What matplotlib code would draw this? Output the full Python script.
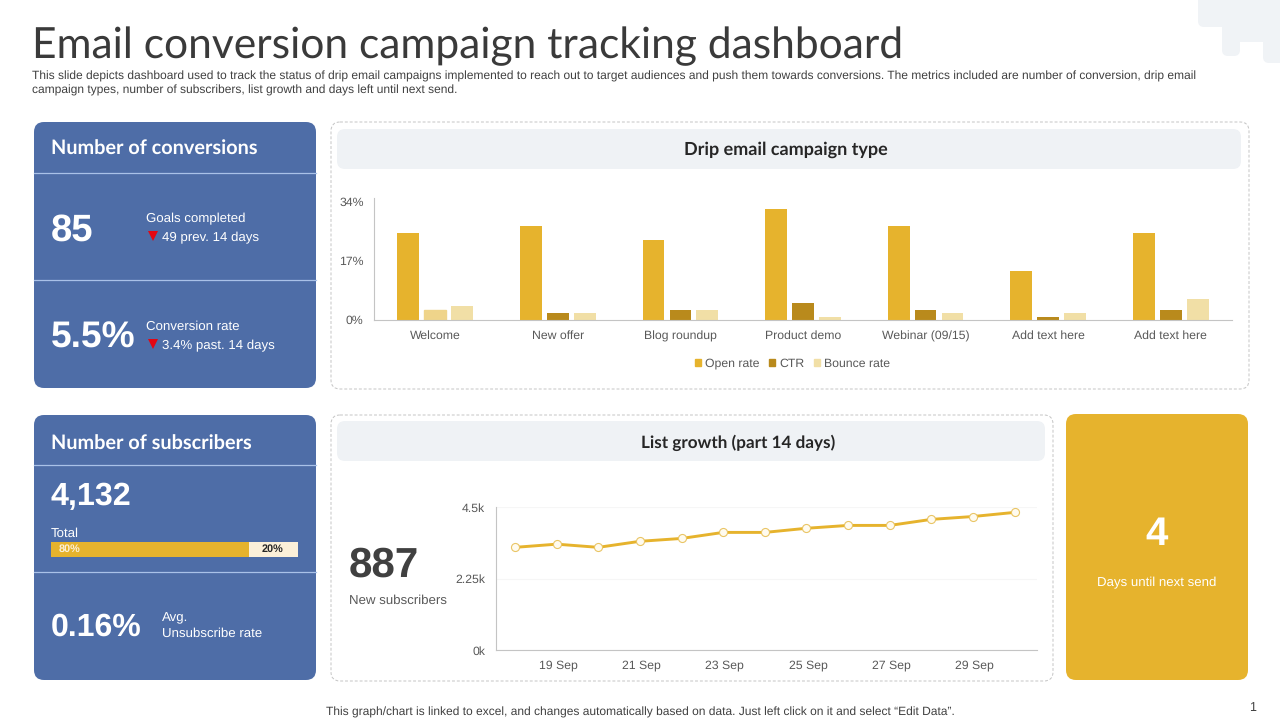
import matplotlib
matplotlib.use("Agg")
import matplotlib.pyplot as plt
from matplotlib.patches import FancyBboxPatch, Patch
from matplotlib.transforms import ScaledTranslation

plt.rcParams["text.hinting"] = "no_hinting"

W, H = 1280, 720
BLUE = "#4E6DA7"; GOLD = "#E6B32D"; DARK_GOLD = "#B98A1C"; PALE = "#F1DFA6"; MID = "#EFD48A"
GREY_BG = "#EFF2F5"; TXT = "#404040"; TICK = "#595959"; SANS = "Liberation Sans"

title = "Email conversion campaign tracking dashboard"
subtitle = ("This slide depicts dashboard used to track the status of drip email campaigns implemented to reach out to target audiences and push them towards conversions. The metrics included are number of conversion, drip email\n"
            "campaign types, number of subscribers, list growth and days left until next send.")
footer = "This graph/chart is linked to excel, and changes automatically based on data. Just left click on it and select \u201cEdit Data\u201d."

campaigns = ["Welcome", "New offer", "Blog roundup", "Product demo", "Webinar (09/15)", "Add text here", "Add text here"]
open_rate = [25, 27, 23, 32, 27, 14, 25]
ctr = [3, 2, 3, 5, 3, 1, 3]
bounce_rate = [4, 2, 3, 1, 2, 2, 6]
bar_ticks = [0, 17, 34]
bar_ticklabels = ["0%", "17%", "34%"]

days = ["18 Sep", "19 Sep", "20 Sep", "21 Sep", "22 Sep", "23 Sep", "24 Sep", "25 Sep", "26 Sep", "27 Sep", "28 Sep", "29 Sep", "30 Sep"]
subscribers = [3.24, 3.34, 3.24, 3.43, 3.52, 3.71, 3.71, 3.84, 3.93, 3.93, 4.12, 4.21, 4.34]
line_ticks = [0, 2.25, 4.5]
line_ticklabels = ["0k", "2.25k", "4.5k"]

share_values = [80, 20]
share_labels = ["80%", "20%"]

fig = plt.figure(figsize=(12.8, 7.2), dpi=100, facecolor="white")
bg = fig.add_axes([0, 0, 1, 1])
bg.set_xlim(0, W); bg.set_ylim(H, 0); bg.axis("off")


def axes_px(x0, y0, x1, y1):
    a = fig.add_axes([x0 / W, 1 - y1 / H, (x1 - x0) / W, (y1 - y0) / H])
    a.patch.set_alpha(0)
    return a


def box(x0, y0, x1, y1, fc, r=10, ec="none", lw=0, ls="-", z=1):
    p = FancyBboxPatch((x0, y0), x1 - x0, y1 - y0, boxstyle=f"round,pad=0,rounding_size={r}",
                       fc=fc, ec=ec, lw=lw, ls=ls, zorder=z)
    bg.add_patch(p)


def t(x, y, s, size, color="white", weight="normal", ha="left", va="center_baseline", family=SANS, **kw):
    bg.text(x, y, s, fontsize=size, color=color, fontweight=weight, ha=ha, va=va, family=family, zorder=5, **kw)


# top-right decorative blob
BLOB = "#F0F3F6"
for rect in [(1198, -20, 1300, 27), (1222, -20, 1240, 56), (1232, -20, 1268, 42), (1263, -20, 1300, 63)]:
    box(*rect, fc=BLOB, r=6, z=0)

t(32, 42.5, title, 30.65, color="#3A3A3A", family="Lato")
t(32, 83.5, subtitle, 8.64, color=TXT, linespacing=1.25, va="center")
t(640, 711, footer, 8.63, color=TXT, ha="center")
t(1253, 706, "1", 9, color=TXT, ha="center")

# left blue cards
box(34, 122, 316, 388, BLUE)
box(34, 415, 316, 680, BLUE)
for y in (173, 280, 465, 572):
    bg.plot([34, 316], [y, y], color="#A9C1E8", lw=0.9, zorder=3)

t(51, 147, "Number of conversions", 14.3, weight="bold", family="Lato")
t(51, 226.5, "85", 27.5, weight="bold")
t(146, 217.5, "Goals completed", 9.5)
t(162, 236.5, "49 prev. 14 days", 9.5)
t(51, 334.5, "5.5%", 26.7, weight="bold")
t(146, 325.5, "Conversion rate", 9.5)
t(162, 344.5, "3.4% past. 14 days", 9.5)
bg.plot([152.5, 152.5], [236, 344], ls="none", marker="v", ms=7.5, color="#E30613", mew=0, zorder=5)

t(51, 442, "Number of subscribers", 14.3, weight="bold", family="Lato")
t(51, 493.5, "4,132", 23.2, weight="bold")
t(51, 532.5, "Total", 9.5)
t(51, 624.5, "0.16%", 23, weight="bold")
t(162, 617, "Avg.", 9.5)
t(162, 632.5, "Unsubscribe rate", 9.5)

# share bar
ax_s = axes_px(51, 542, 298, 557)
ax_s.barh([0], [share_values[0]], color=GOLD, height=1)
ax_s.barh([0], [share_values[1]], left=[share_values[0]], color="#FBF0D9", height=1)
ax_s.set_xlim(0, sum(share_values)); ax_s.set_ylim(-0.5, 0.5); ax_s.axis("off")
ax_s.text(share_values[0] * 0.096, 0, share_labels[0], color="#FBF0D9", fontsize=7.8, fontweight="bold", family=SANS, ha="center", va="center")
ax_s.text(share_values[0] + share_values[1] * 0.49, 0, share_labels[1], color="#262626", fontsize=7.8, fontweight="bold", family=SANS, ha="center", va="center")

# dashed panels
dash = (0, (3, 2))
box(331, 122, 1249, 389, "white", r=9, ec="#C4C4C4", lw=0.7, ls=dash)
box(331, 415, 1053, 681, "white", r=9, ec="#C4C4C4", lw=0.7, ls=dash)
box(337, 129, 1241, 169, GREY_BG, r=8, z=2)
box(337, 421, 1045, 461, GREY_BG, r=8, z=2)
t(785.5, 148.5, "Drip email campaign type", 12.95, color="#262626", weight="bold", ha="center", family="Lato")
t(738, 441, "List growth (part 14 days)", 12.3, color="#262626", weight="bold", ha="center", family="Lato")

t(349, 561, "887", 30.3, color=TXT, weight="bold")
t(349, 599, "New subscribers", 9.5, color=TICK)

# yellow card
box(1066, 414, 1248, 680, GOLD)
t(1157, 530.5, "4", 29, weight="bold", ha="center")
t(1157, 582, "Days until next send", 9.5, ha="center")

# bar chart
ax = axes_px(374, 197.5, 1232, 320)
xs = list(range(len(campaigns)))
w, off = 0.178, 0.22
ax.bar([x - off for x in xs], open_rate, w, color=GOLD, label="Open rate")
ctr_bars = ax.bar(xs, ctr, w, color=DARK_GOLD, label="CTR")
ctr_bars[0].set_color(MID)
ax.bar([x + off for x in xs], bounce_rate, w, color=PALE, label="Bounce rate")
ax.set_xlim(-0.5, len(xs) - 0.5); ax.set_ylim(0, 35.2)
ax.set_yticks(bar_ticks, bar_ticklabels); ax.set_xticks(xs, campaigns)
ax.tick_params(length=0, labelsize=8.8, labelcolor=TICK)
ax.tick_params(axis="x", pad=13.7)
ax.tick_params(axis="y", pad=7.5)
for lab in ax.get_xticklabels():
    lab.set_family(SANS); lab.set_va("baseline")
for lab in ax.get_yticklabels():
    lab.set_family(SANS)
for s in ("top", "right"):
    ax.spines[s].set_visible(False)
for s in ("left", "bottom"):
    ax.spines[s].set_color("#C4C4C4"); ax.spines[s].set_linewidth(0.8)
handles = [Patch(color=GOLD, label="Open rate"), Patch(color=DARK_GOLD, label="CTR"), Patch(color=PALE, label="Bounce rate")]
ax.legend(handles=handles, loc="center", bbox_to_anchor=((792.5 - 374) / 858, (320 - 363.5) / 122.5), ncol=3, frameon=False,
          prop={"family": SANS, "size": 8.8}, labelcolor=TICK, handlelength=0.5, handleheight=0.5,
          handletextpad=0.3, columnspacing=0.8, borderpad=0, borderaxespad=0)

# line chart
ax2 = axes_px(495.5, 507.3, 1036.7, 650.3)
xl = list(range(len(days)))
ax2.plot(xl, subscribers, color=GOLD, lw=2.1, marker="o", ms=5.8, mfc="#FFFBEF", mec="#E9C565", mew=0.8, zorder=4, clip_on=False)
ax2.set_xlim(-0.47, len(xl) - 0.47); ax2.set_ylim(0, 4.5)
ax2.set_yticks(line_ticks, line_ticklabels)
ax2.set_xticks(xl[1::2], days[1::2])
ax2.tick_params(length=0, labelsize=8.8, labelcolor=TICK)
ax2.tick_params(axis="x", pad=13.1)
ax2.tick_params(axis="y", pad=7.5)
shift = ScaledTranslation(1.5 / 100, 0, fig.dpi_scale_trans)
for lab in ax2.get_xticklabels():
    lab.set_family(SANS); lab.set_va("baseline")
    lab.set_transform(lab.get_transform() + shift)
for lab in ax2.get_yticklabels():
    lab.set_family(SANS)
ax2.grid(axis="y", color="#F6F6F6", lw=0.8)
ax2.set_axisbelow(True)
for s in ("top", "right"):
    ax2.spines[s].set_visible(False)
for s in ("left", "bottom"):
    ax2.spines[s].set_color("#C4C4C4"); ax2.spines[s].set_linewidth(0.8)

fig.savefig("out.png", dpi=100)
